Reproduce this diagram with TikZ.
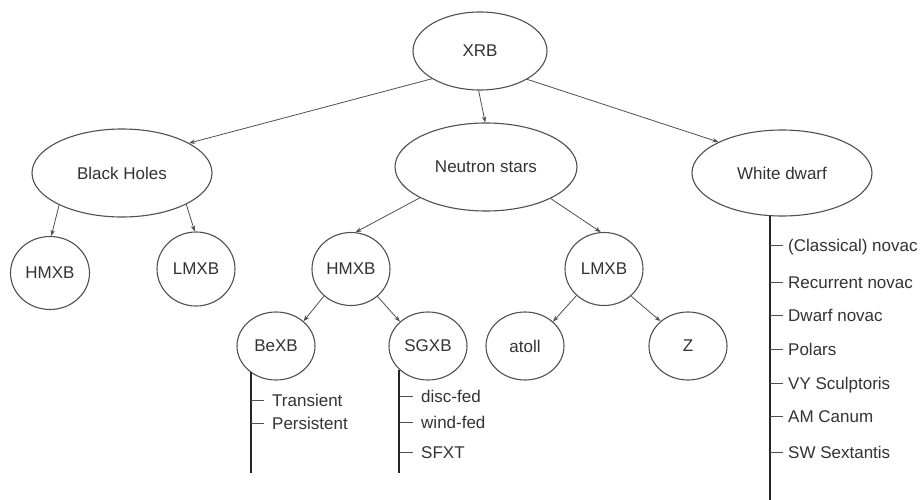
\documentclass[tikz,border=0pt]{standalone}
\usepackage{fontspec}
\setmainfont{Liberation Sans}
\usetikzlibrary{shapes.geometric,arrows.meta}
\definecolor{edgegray}{HTML}{505050}
\definecolor{txtgray}{HTML}{333333}
\tikzset{
  ell/.style={ellipse,draw=edgegray,line width=1.1pt,inner sep=0pt,text=txtgray,
    font=\fontsize{17}{20}\selectfont},
  arr/.style={draw=edgegray,line width=0.8pt,-{Stealth[length=6pt,width=4.5pt]}},
  trunk/.style={draw=black!85,line width=2pt},
  tick/.style={draw=edgegray,line width=0.9pt},
  item/.style={anchor=west,inner sep=0pt,text=txtgray,text height=12.2pt,text depth=0pt,
    font=\fontsize{17}{20}\selectfont}
}
\begin{document}
\begin{tikzpicture}[x=1pt,y=-1pt]
\useasboundingbox[fill=white] (0,0) rectangle (922,500);
% ellipses
\node[ell,minimum width=134pt,minimum height=78pt] (xrb) at (480,51) {XRB};
\node[ell,minimum width=180pt,minimum height=88pt] (bh) at (122,173) {Black Holes};
\node[ell,minimum width=182pt,minimum height=88pt] (ns) at (486,167) {Neutron stars};
\node[ell,minimum width=180pt,minimum height=86pt] (wd) at (782,173) {White dwarf};
\node[ell,minimum width=79pt,minimum height=73pt] (bhh) at (50,273) {HMXB};
\node[ell,minimum width=78pt,minimum height=74pt] (bhl) at (196,269) {LMXB};
\node[ell,minimum width=78pt,minimum height=73pt] (nsh) at (351,269) {HMXB};
\node[ell,minimum width=78pt,minimum height=73pt] (nsl) at (604,269) {LMXB};
\node[ell,minimum width=78pt,minimum height=68pt] (bexb) at (276,346) {BeXB};
\node[ell,minimum width=78pt,minimum height=68pt] (sgxb) at (428,346) {SGXB};
\node[ell,minimum width=78pt,minimum height=68pt] (atoll) at (525,346) {atoll};
\node[ell,minimum width=78pt,minimum height=68pt] (z) at (688,346) {Z};
% arrows
\draw[arr] (xrb.210) -- (bh.24);
\draw[arr] (xrb.268) -- (ns.91);
\draw[arr] (xrb.329) -- (wd.154);
\draw[arr] (bh.207) -- (bhh.88);
\draw[arr] (bh.334) -- (bhl.92);
\draw[arr] (ns.205) -- (nsh.83);
\draw[arr] (ns.334) -- (nsl.95);
\draw[arr] (nsh.225) -- (bexb.42);
\draw[arr] (nsh.314) -- (sgxb.139);
\draw[arr] (nsl.224) -- (atoll.41);
\draw[arr] (nsl.315) -- (z.138);
% trunks
\coordinate (beEnd) at (251,473);
\coordinate (sgEnd) at (400,473);
\coordinate (wdEnd) at (770,500);
\draw[trunk] (bexb.226) -- (bexb.226 |- beEnd);
\draw[trunk] (sgxb.220) -- (sgxb.220 |- sgEnd);
\draw[trunk] (wd.254) -- (wd.254 |- wdEnd);
% BeXB items
\node[item] (be1) at (272,400) {Transient};
\node[item] (be2) at (272,423) {Persistent};
% SGXB items
\node[item] (sg1) at (421,396) {disc-fed};
\node[item] (sg2) at (421,422) {wind-fed};
\node[item] (sg3) at (421,452) {SFXT};
% WD items
\node[item] (w1) at (788,245) {(Classical) novac};
\node[item] (w2) at (788,282) {Recurrent novac};
\node[item] (w3) at (788,315) {Dwarf novac};
\node[item] (w4) at (788,349) {Polars};
\node[item] (w5) at (788,383) {VY Sculptoris};
\node[item] (w6) at (788,416) {AM Canum};
\node[item] (w7) at (788,452) {SW Sextantis};
% ticks
\foreach \n in {be1,be2}{\draw[tick] (\n.west -| beEnd) -- ++(13,0);}
\foreach \n in {sg1,sg2,sg3}{\draw[tick] (\n.west -| sgEnd) -- ++(13,0);}
\foreach \n in {w1,w2,w3,w4,w5,w6,w7}{\draw[tick] (\n.west -| wdEnd) -- ++(13,0);}
\end{tikzpicture}
\end{document}
